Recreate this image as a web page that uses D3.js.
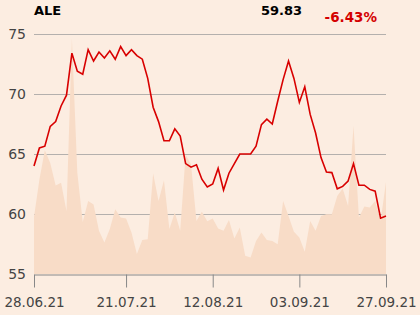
<!DOCTYPE html>
<html>
<head>
<meta charset="utf-8">
<script src="https://cdn.jsdelivr.net/npm/d3@7"></script>
<style>
  html, body { margin: 0; padding: 0; background: #fcede1; }
  svg { display: block; font-family: "DejaVu Sans", sans-serif; }
</style>
</head>
<body>
<div id="chart"></div>
<script>
// trading days 28.06.21 .. 27.09.21
const prices = [
  64.0, 65.5, 65.65, 67.3, 67.7, 69.0, 69.9, 73.4, 71.9, 71.65,
  73.7, 72.75, 73.5, 73.0, 73.6, 72.9, 73.95, 73.2, 73.7, 73.2,
  72.9, 71.3, 68.9, 67.7, 66.1, 66.1, 67.1, 66.5, 64.2, 63.9,
  64.1, 62.9, 62.25, 62.5, 63.8, 62.0, 63.4, 64.2, 65.0, 65.0,
  65.0, 65.65, 67.45, 67.9, 67.5, 69.4, 71.2, 72.75, 71.3, 69.3,
  70.6, 68.3, 66.75, 64.7, 63.5, 63.45, 62.1, 62.3, 62.75, 64.2,
  62.4, 62.4, 62.05, 61.9, 59.65, 59.83
];
const volumes = [
  23.7, 39.4, 51.6, 46.3, 36.9, 38.0, 26.3, 98.2, 42.2, 21.7,
  30.4, 29.0, 18.0, 13.1, 18.7, 27.0, 23.5, 23.1, 17.3, 8.3,
  14.2, 14.5, 41.9, 30.4, 39.1, 18.7, 25.6, 18.0, 49.8, 45.6,
  22.1, 25.9, 22.0, 23.1, 19.0, 18.0, 22.5, 14.8, 19.4, 7.6,
  6.9, 13.8, 17.3, 14.2, 13.8, 12.4, 30.4, 24.2, 17.6, 15.2,
  9.3, 22.1, 18.0, 24.2, 24.9, 24.9, 32.5, 35.6, 28.3, 61.8,
  23.5, 28.1, 27.7, 30.4, 22.1, 38.3
];
const yTicks = [55, 60, 65, 70, 75];
const xTickIdx = [0, 17, 33, 49, 65];
const xTickLabels = ['28.06.21', '21.07.21', '12.08.21', '03.09.21', '27.09.21'];
const ticker = 'ALE';
const lastPrice = '59.83';
const change = '-6.43%';

const W = 420, H = 315;
const margin = {top: 34, right: 34, bottom: 40, left: 34};

const svg = d3.select('#chart').append('svg')
  .attr('width', W)
  .attr('height', H);

svg.append('rect').attr('width', W).attr('height', H).attr('fill', '#fcede1');

const x = d3.scaleLinear()
  .domain([0, prices.length - 1])
  .range([margin.left, W - margin.right]);
const y = d3.scaleLinear()
  .domain([55, 75])
  .range([H - margin.bottom - 1, margin.top]);
const yVol = d3.scaleLinear()
  .domain([0, 100])
  .range([H - margin.bottom - 1, margin.top]);

// gridlines
svg.append('g')
  .selectAll('line')
  .data(yTicks.filter(d => d > 55))
  .join('line')
    .attr('x1', margin.left)
    .attr('x2', W - margin.right)
    .attr('y1', d => Math.round(y(d)) + 0.5)
    .attr('y2', d => Math.round(y(d)) + 0.5)
    .attr('stroke', '#b4b0ad')
    .attr('stroke-width', 1);

// volume area
const area = d3.area()
  .x((d, i) => x(i))
  .y0(yVol(0))
  .y1(d => yVol(d));
svg.append('path')
  .datum(volumes)
  .attr('fill', '#f8dcc7')
  .attr('d', area);

// price line
const line = d3.line()
  .x((d, i) => x(i))
  .y(d => y(d));
svg.append('path')
  .datum(prices)
  .attr('fill', 'none')
  .attr('stroke', '#d80000')
  .attr('stroke-width', 1.6)
  .attr('stroke-linejoin', 'miter')
  .attr('d', line);

// x axis
const xAxis = svg.append('g')
  .attr('transform', 'translate(0,' + (Math.round(y(55)) + 0.5) + ')')
  .call(d3.axisBottom(x)
    .tickValues(xTickIdx)
    .tickFormat((d, i) => xTickLabels[i])
    .tickSize(13)
    .tickPadding(10)
    .tickSizeOuter(0));
xAxis.select('.domain').attr('stroke', '#888');
xAxis.selectAll('.tick line').attr('stroke', '#888');
xAxis.selectAll('text')
  .attr('fill', '#444')
  .style('font-size', '13.5px')
  .style('font-family', '"DejaVu Sans", sans-serif');

// y labels
const yAxis = svg.append('g')
  .attr('transform', 'translate(' + margin.left + ',0)')
  .call(d3.axisLeft(y).tickValues(yTicks).tickSize(0).tickPadding(8));
yAxis.select('.domain').remove();
yAxis.selectAll('text')
  .attr('fill', '#444')
  .style('font-size', '14px')
  .style('font-family', '"DejaVu Sans", sans-serif');

// header
svg.append('text')
  .attr('x', 34).attr('y', 15)
  .attr('font-size', 13).attr('font-weight', 'bold')
  .attr('fill', '#000')
  .text(ticker);
svg.append('text')
  .attr('x', 302).attr('y', 14.5)
  .attr('text-anchor', 'end')
  .attr('font-size', 13).attr('font-weight', 'bold')
  .attr('fill', '#000')
  .text(lastPrice);
svg.append('text')
  .attr('x', 377).attr('y', 21.5)
  .attr('text-anchor', 'end')
  .attr('font-size', 13.5).attr('font-weight', 'bold')
  .attr('fill', '#d40000')
  .text(change);
</script>
</body>
</html>
